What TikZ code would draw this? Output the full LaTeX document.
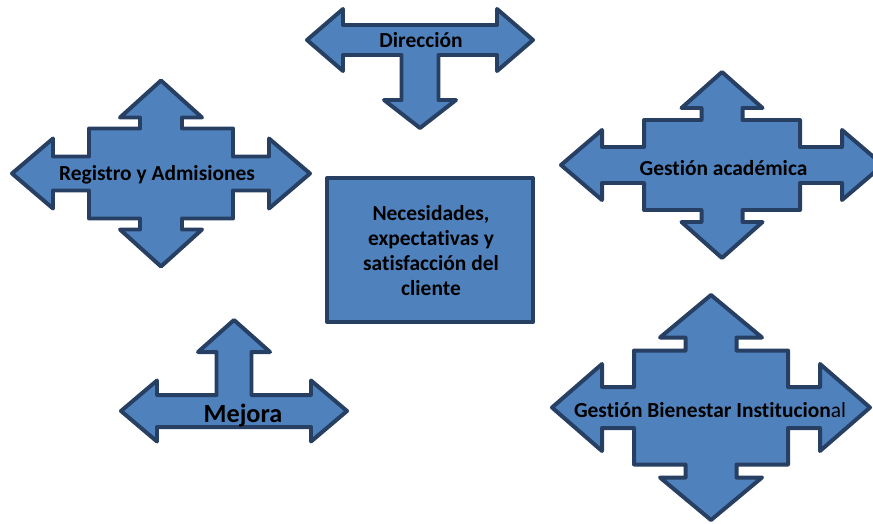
\documentclass[tikz,border=0pt]{standalone}
\usepackage{fontspec}
\setmainfont{Carlito}[Ligatures=NoCommon]
\usepackage{tikz}
\usetikzlibrary{positioning}

\definecolor{shapeblue}{HTML}{4F81BD}
\definecolor{shapeline}{HTML}{263F62}

\tikzset{
    blockarrow/.style={draw=shapeline, fill=shapeblue, line width=3.4pt, line join=round},
    blocklabel/.style={font=\fontsize{18.3}{21}\selectfont\bfseries, inner sep=0pt}
}

\begin{document}
\begin{tikzpicture}[x=0.03cm, y=-0.03cm]
        \useasboundingbox (0,0) rectangle (873,523);

        % Direccion
        \begin{scope}[shift={(420,40)}]
            \draw[blockarrow] (-113,0) -- (-77,-31) -- (-77,-15) -- (77,-15) -- (77,-31) -- (113,0)
                -- (77,31) -- (77,15) -- (18.5,15) -- (18.5,60) -- (36,60) -- (0,88) -- (-36,60)
                -- (-18.5,60) -- (-18.5,15) -- (-77,15) -- (-77,31) -- cycle;
            \node[blocklabel] (direccion) at (1,0) {Dirección};
        \end{scope}

        % Registro y Admisiones
        \begin{scope}[shift={(161,173.5)}]
            \draw[blockarrow] (-149,0) -- (-108,-35) -- (-108,-17) -- (-72,-17) -- (-72,-45) -- (-21,-45)
                -- (-21,-56) -- (-41,-56) -- (0,-93) -- (41,-56) -- (21,-56) -- (21,-45) -- (72,-45)
                -- (72,-17) -- (108,-17) -- (108,-35) -- (149,0) -- (108,35) -- (108,17) -- (72,17)
                -- (72,45) -- (21,45) -- (21,56) -- (41,56) -- (0,93) -- (-41,56) -- (-21,56)
                -- (-21,45) -- (-72,45) -- (-72,17) -- (-108,17) -- (-108,35) -- cycle;
            \node[blocklabel] (registro) at (-4,1.5) {Registro y Admisiones};
        \end{scope}

        % Gestion academica
        \begin{scope}[shift={(722,165)}]
            \draw[blockarrow] (-161,0) -- (-120,-35) -- (-120,-18) -- (-78,-18) -- (-78,-45) -- (-20.5,-45)
                -- (-20.5,-57) -- (-40.5,-57) -- (0,-93) -- (40.5,-57) -- (20.5,-57) -- (20.5,-45) -- (78,-45)
                -- (78,-18) -- (120,-18) -- (120,-35) -- (161,0) -- (120,35) -- (120,18) -- (78,18)
                -- (78,45) -- (20.5,45) -- (20.5,57) -- (40.5,57) -- (0,93) -- (-40.5,57) -- (-20.5,57)
                -- (-20.5,45) -- (-78,45) -- (-78,18) -- (-120,18) -- (-120,35) -- cycle;
            \node[blocklabel] (academica) at (1.5,3.5) {Gestión académica};
        \end{scope}

        % Necesidades del cliente
        \draw[blockarrow] (327,178) rectangle (533,322);
        \node[blocklabel, align=center, font=\fontsize{18.3}{21.3}\selectfont\bfseries] (cliente) at (431,250.5)
            {Necesidades,\\expectativas y\\satisfacción del\\cliente};

        % Mejora
        \begin{scope}[shift={(234,411)}]
            \draw[blockarrow] (-113,0) -- (-77,-30.5) -- (-77,-16) -- (-17.5,-16) -- (-17.5,-59) -- (-36,-59)
                -- (0,-91) -- (36,-59) -- (17.5,-59) -- (17.5,-16) -- (77,-16) -- (77,-30.5) -- (113,0)
                -- (77,30.5) -- (77,16) -- (-77,16) -- (-77,30.5) -- cycle;
            \node[blocklabel, font=\fontsize{22.4}{26}\selectfont\bfseries] (mejora) at (9,5) {Mejora};
        \end{scope}

        % Gestion Bienestar Institucional
        \begin{scope}[shift={(711,407.5)}]
            \draw[blockarrow] (-159,0) -- (-109,-43.5) -- (-109,-20.5) -- (-77,-20.5) -- (-77,-57) -- (-25.5,-57)
                -- (-25.5,-70) -- (-51,-70) -- (0,-112.5) -- (51,-70) -- (25.5,-70) -- (25.5,-57) -- (77,-57)
                -- (77,-20.5) -- (109,-20.5) -- (109,-43.5) -- (159,0) -- (109,43.5) -- (109,20.5) -- (77,20.5)
                -- (77,57) -- (25.5,57) -- (25.5,70) -- (51,70) -- (0,112.5) -- (-51,70) -- (-25.5,70)
                -- (-25.5,57) -- (-77,57) -- (-77,20.5) -- (-109,20.5) -- (-109,43.5) -- cycle;
            \node[blocklabel] (bienestar) at (-1,2.5) {Gestión Bienestar Institucion\mdseries al};
        \end{scope}

    \end{tikzpicture}
\end{document}
